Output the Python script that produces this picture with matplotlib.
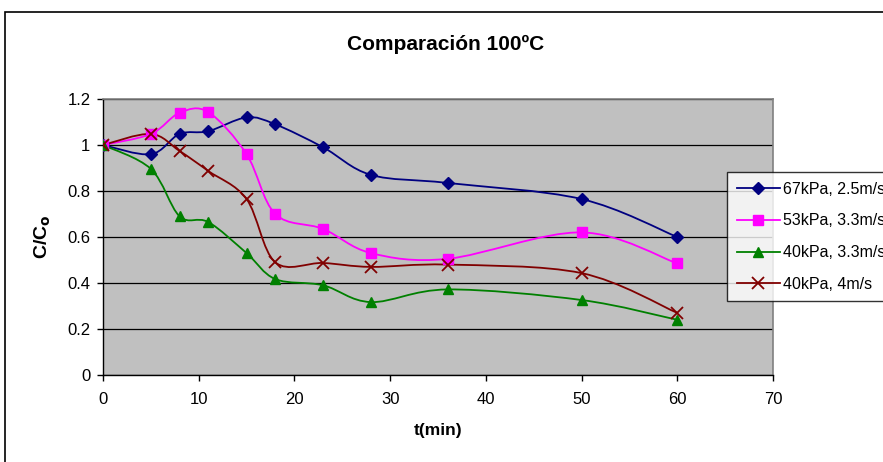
import matplotlib
matplotlib.use("Agg")
import matplotlib.pyplot as plt
from matplotlib.path import Path
from matplotlib.patches import PathPatch, Rectangle
from matplotlib.lines import Line2D
import numpy as np

plt.rcParams['font.family'] = ['Liberation Sans', 'DejaVu Sans']

t = [0, 5, 8, 11, 15, 18, 23, 28, 36, 50, 60]
labels = ["67kPa, 2.5m/s", "53kPa, 3.3m/s", "40kPa, 3.3m/s", "40kPa, 4m/s"]
s67 = [1.0, 0.96, 1.048, 1.06, 1.12, 1.09, 0.99, 0.87, 0.835, 0.765, 0.60]
s53 = [1.0, 1.048, 1.14, 1.143, 0.96, 0.70, 0.635, 0.53, 0.505, 0.62, 0.485]
s40a = [1.0, 0.896, 0.69, 0.665, 0.53, 0.417, 0.39, 0.317, 0.372, 0.326, 0.24]
s40b = [1.0, 1.048, 0.974, 0.887, 0.765, 0.49, 0.487, 0.47, 0.48, 0.443, 0.27]

colors = ["#000080", "#FF00FF", "#008000", "#800000"]
markers = ["D", "s", "^", "x"]
msizes = [6, 7, 7.5, 8]

fig = plt.figure(figsize=(8.83, 4.62), dpi=100)
ax = fig.add_axes([103/883, 1-375/462, 670/883, 276/462])
ax.set_facecolor("#C0C0C0")


def smooth_path(x, y):
    pts = np.column_stack([x, y]).astype(float)
    n = len(pts)
    verts = [pts[0]]
    codes = [Path.MOVETO]
    for i in range(n - 1):
        p0 = pts[i - 1] if i > 0 else pts[i]
        p1 = pts[i]
        p2 = pts[i + 1]
        p3 = pts[i + 2] if i + 2 < n else pts[i + 1]
        c1 = p1 + (p2 - p0) / 6.0
        c2 = p2 - (p3 - p1) / 6.0
        verts += [c1, c2, p2]
        codes += [Path.CURVE4] * 3
    return Path(verts, codes)


series = [s67, s53, s40a, s40b]
handles = []
for ys, c, m, ms, lab in zip(series, colors, markers, msizes, labels):
    patch = PathPatch(smooth_path(t, ys), facecolor="none", edgecolor=c, lw=1.3, zorder=3)
    ax.add_patch(patch)
    if m == "x":
        ax.plot(t, ys, linestyle="none", marker=m, color=c, ms=ms, mew=1.3, zorder=4)
    else:
        ax.plot(t, ys, linestyle="none", marker=m, color=c, ms=ms, zorder=4)
    handles.append(Line2D([], [], color=c, marker=m, ms=ms, lw=1.3,
                          mew=1.3 if m == "x" else 1.0, label=lab))

ax.set_xlim(0, 70)
ax.set_ylim(0, 1.2)
ax.set_xticks(range(0, 71, 10))
ax.set_yticks([0, 0.2, 0.4, 0.6, 0.8, 1.0, 1.2])
ax.set_yticklabels(["0", "0.2", "0.4", "0.6", "0.8", "1", "1.2"])
ax.yaxis.grid(True, color="black", lw=0.9)
ax.set_axisbelow(True)
ax.tick_params(axis="both", direction="out", length=4, width=1, labelsize=12, colors="black")
ax.tick_params(axis="x", pad=8)
ax.tick_params(axis="y", pad=5)
for sp in ["top", "right"]:
    ax.spines[sp].set_color("#808080")
    ax.spines[sp].set_linewidth(1.2)
for sp in ["left", "bottom"]:
    ax.spines[sp].set_color("black")
    ax.spines[sp].set_linewidth(1.0)

ax.set_xlabel("t(min)", fontsize=12.5, fontweight="bold", labelpad=12)
ax.set_ylabel("C/C$_\\mathbf{o}$", fontsize=14, fontweight="bold", labelpad=10)
fig.text(446/883, 1-44/462, "Comparación 100ºC", ha="center", va="center",
         fontsize=15, fontweight="bold")

leg = ax.legend(handles=handles, loc="upper left", bbox_to_anchor=(727/883, 1-172/462),
                bbox_transform=fig.transFigure, frameon=True, fancybox=False,
                fontsize=11.5, handlelength=2.7, borderpad=0.6, labelspacing=1.05,
                handletextpad=0.2, borderaxespad=0)
leg.get_frame().set_edgecolor("black")
leg.get_frame().set_linewidth(1.0)

fig.add_artist(Rectangle((5/883, -0.1), 2.0, 1.1 - 12/462, transform=fig.transFigure,
                         facecolor="none", edgecolor="black", lw=1.2))

fig.savefig("out.png", dpi=100)
